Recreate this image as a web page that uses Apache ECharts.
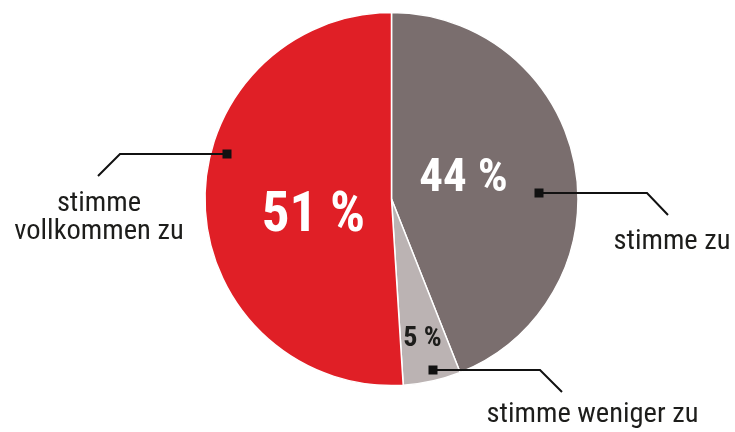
<!DOCTYPE html>
<html><head><meta charset="utf-8">
<script src="https://cdn.jsdelivr.net/npm/echarts@6/dist/echarts.min.js"></script>
<style>html,body{margin:0;padding:0;background:#fff}#c{width:735px;height:432px}</style>
</head><body><div id="c"></div>
<script>
// ---- data ----
const categories = ['stimme zu', 'stimme weniger zu', 'stimme vollkommen zu'];
const values = [44, 5, 51];
const outerLabels = ['stimme zu', 'stimme weniger zu', 'stimme\nvollkommen zu'];
const colors = ['#7a6e6e', '#bbb3b3', '#e01f26'];

// ---- layout / style (annotation geometry relative to pie centre) ----
const CX = 391.5, CY = 199, R = 186.5;
const FONT = "'Roboto Condensed','Liberation Sans Narrow','DejaVu Sans Condensed',sans-serif";
const pctSizes = [47, 28, 55];
const pctColors = ['#ffffff', '#1d1d1b', '#ffffff'];
const pctPos = [[72, -19.5], [31, 140], [-78, 18]];
const outerPos = [[280.5, 43], [201, 216], [-292.5, 19]];
const leaderPts = [
  [[147.5, -6], [255.5, -6], [276.5, 16]],
  [[41.5, 171], [148.5, 171], [170.5, 193]],
  [[-164.5, -45], [-271.5, -45], [-293.5, -23]]
];

const chart = echarts.init(document.getElementById('c'), null, {renderer: 'canvas'});

const baseData = categories.map((n, i) => ({name: n, value: values[i]}));

const option = {
  animation: false,
  backgroundColor: '#ffffff',
  series: [
    {
      type: 'pie',
      z: 2,
      center: [CX, CY],
      radius: R,
      startAngle: 90,
      clockwise: true,
      avoidLabelOverlap: false,
      emphasis: {disabled: true},
      data: baseData.map((d, i) => ({
        name: d.name, value: d.value,
        itemStyle: {color: colors[i]},
        label: {fontSize: pctSizes[i], color: pctColors[i]}
      })),
      itemStyle: {borderColor: '#ffffff', borderWidth: 1.5},
      label: {
        show: true, position: 'inside', formatter: '{c} %',
        fontFamily: FONT, fontWeight: 'bold'
      },
      labelLine: {show: false},
      labelLayout: p => ({
        x: CX + pctPos[p.dataIndex][0], y: CY + pctPos[p.dataIndex][1],
        align: 'center', verticalAlign: 'middle'
      })
    },
    {
      type: 'pie',
      z: 5,
      center: [CX, CY],
      radius: R,
      startAngle: 90,
      clockwise: true,
      silent: true,
      avoidLabelOverlap: false,
      emphasis: {disabled: true},
      data: baseData.map(d => ({name: d.name, value: d.value})),
      itemStyle: {color: 'rgba(0,0,0,0)', borderWidth: 0},
      label: {
        show: true, position: 'outside',
        formatter: p => outerLabels[p.dataIndex],
        fontFamily: FONT, fontSize: 28.5, lineHeight: 28, color: '#1d1d1b', align: 'center'
      },
      labelLine: {show: true, length: 20, length2: 20, lineStyle: {color: '#111111', width: 2}},
      labelLayout: p => ({
        x: CX + outerPos[p.dataIndex][0], y: CY + outerPos[p.dataIndex][1],
        align: 'center', verticalAlign: 'middle',
        labelLinePoints: leaderPts[p.dataIndex].map(q => [CX + q[0], CY + q[1]])
      })
    }
  ],
  graphic: leaderPts.map(pts => ({
    type: 'rect', silent: true, z: 100,
    shape: {x: CX + pts[0][0] - 4.5, y: CY + pts[0][1] - 4.5, width: 9, height: 9},
    style: {fill: '#111111'}
  }))
};
chart.setOption(option);
</script></body></html>
